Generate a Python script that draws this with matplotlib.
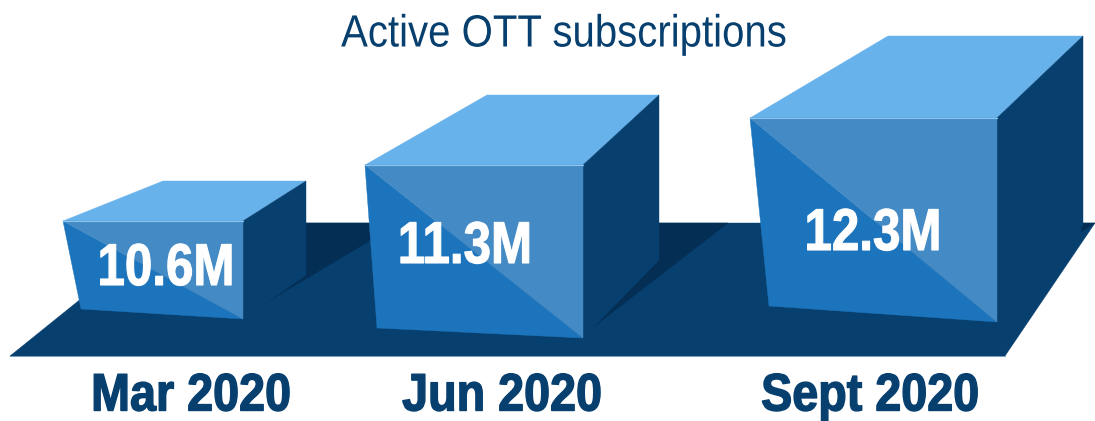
import matplotlib
matplotlib.use("Agg")
import matplotlib.pyplot as plt
from matplotlib.patches import Polygon
from matplotlib.patheffects import AbstractPathEffect
from matplotlib.transforms import Affine2D
import numpy as np

# ---- data ----
categories = ["Mar 2020", "Jun 2020", "Sept 2020"]
values = [10.6, 11.3, 12.3]
value_labels = ["10.6M", "11.3M", "12.3M"]
title = "Active OTT subscriptions"

# ---- layout (pixel units of the 1095x421 canvas) ----
# the source drawing uses a non-linear height scale: value -> y of the box top
scale_values = [10.6, 11.3, 12.3]
scale_top_y = [221, 165, 118]
front_left = [63, 365, 750]
front_right = [243, 583, 997]
front_bottom_right = [319, 338, 322]
front_bottom_left = [(81, 309), (377, 328), (769, 306)]
back_left_x = [163, 487, 888]
back_right_x = [306, 659, 1083]
depth_rise = [40, 70, 82]
back_bottom = [275, 260, 225]
shadows = [
    [(306, 223), (371, 223), (371, 240), (267, 302), (306, 275)],
    [(659, 223), (728, 223), (592, 328), (659, 260)],
    [(1083, 223), (1095, 223), (1081, 232)],
]
floor = [(10, 356), (1005, 356), (1095, 223), (175, 223)]
value_xy = [(166, 285), (465, 263), (873, 250)]
cat_xy = [(191, 410.5), (502, 410.5), (870, 410.5)]

C_TOP = "#68b2ec"
C_LIGHT = "#448ac5"
C_FRONT = "#1c75bc"
C_DARK = "#073f6f"
C_SHADOW = "#042e54"
FONT = "Liberation Sans"


class Condense(AbstractPathEffect):
    """Draw the real text narrowed about its centre x (pixels), with an optional heavier stroke."""

    def __init__(self, cx, sx, stroke=0.0):
        super().__init__()
        self.cx, self.sx, self.stroke = cx, sx, stroke

    def draw_path(self, renderer, gc, tpath, affine, rgbFace=None):
        squeeze = Affine2D().translate(-self.cx, 0).scale(self.sx, 1).translate(self.cx, 0)
        gc0 = renderer.new_gc()
        gc0.copy_properties(gc)
        gc0.set_linewidth(self.stroke)
        gc0.set_foreground(rgbFace)
        renderer.draw_path(gc0, tpath, affine + squeeze, rgbFace)
        gc0.restore()


fig = plt.figure(figsize=(10.95, 4.21), dpi=100)
ax = fig.add_axes([0, 0, 1, 1])
ax.set_xlim(0, 1095)
ax.set_ylim(421, 0)
ax.axis("off")


def poly(pts, color, z):
    ax.add_patch(Polygon(pts, closed=True, facecolor=color, edgecolor=color,
                         linewidth=0.3, zorder=z))


poly(floor, C_DARK, 1)
ax.plot([10, 1005], [356.3, 356.3], color="#9db8cf", lw=0.8, zorder=0.9)
for s in shadows:
    poly(s, C_SHADOW, 2)

for i in range(len(values)):
    top = float(np.interp(values[i], scale_values, scale_top_y))
    tl = (front_left[i], top)
    tr = (front_right[i], top)
    br = (front_right[i], front_bottom_right[i])
    bl = front_bottom_left[i]
    back_y = top - depth_rise[i]
    z = 3 + i
    poly([tl, tr, (back_right_x[i], back_y), (back_left_x[i], back_y)], C_TOP, z)
    poly([tr, (back_right_x[i], back_y), (back_right_x[i], back_bottom[i]), br], C_DARK, z)
    poly([tl, br, bl], C_FRONT, z)
    poly([tl, tr, br], C_LIGHT, z)
    ax.plot([tl[0], tr[0]], [top, top], color="#8cc4f0", lw=0.8, zorder=z + 0.1)
    ax.text(value_xy[i][0], value_xy[i][1], value_labels[i], color="white", family=FONT,
            weight="bold", fontsize=42.5, ha="center", va="baseline", zorder=10,
            path_effects=[Condense(value_xy[i][0], 0.835, 0.8)])
    ax.text(cat_xy[i][0], cat_xy[i][1], categories[i], color=C_DARK, family=FONT,
            weight="bold", fontsize=38, ha="center", va="baseline", zorder=10,
            path_effects=[Condense(cat_xy[i][0], 0.885, 1.0)])

ax.text(563.5, 46.5, title, color=C_DARK, family=FONT, fontsize=32.5,
        ha="center", va="baseline", zorder=10, path_effects=[Condense(563.5, 0.89, 0.0)])

fig.savefig("out.png", dpi=100)
